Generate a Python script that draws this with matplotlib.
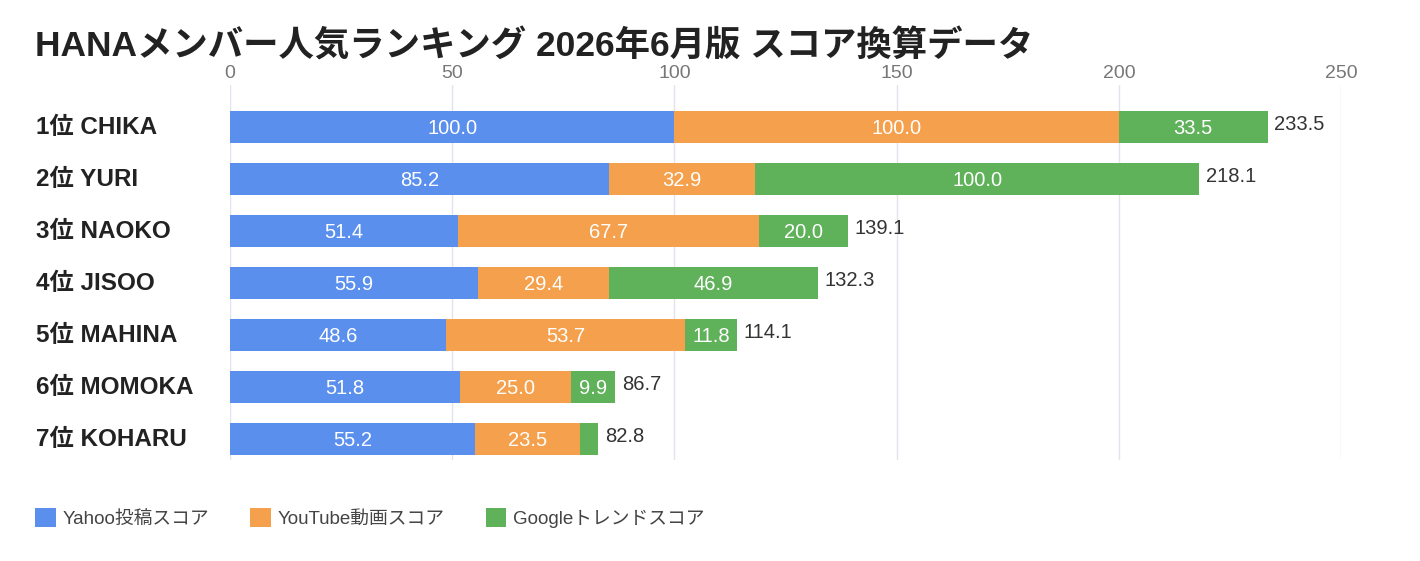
import numpy as np
import matplotlib
matplotlib.use('Agg')
import matplotlib.pyplot as plt
from matplotlib.patches import Patch

plt.rcParams['font.family'] = ['Liberation Sans', 'Noto Sans CJK JP', 'DejaVu Sans']

# データ
members = ['1位 CHIKA', '2位 YURI', '3位 NAOKO', '4位 JISOO', '5位 MAHINA', '6位 MOMOKA', '7位 KOHARU']
yahoo = [100.0, 85.2, 51.4, 55.9, 48.6, 51.8, 55.2]
youtube = [100.0, 32.9, 67.7, 29.4, 53.7, 25.0, 23.5]
google = [33.5, 100.0, 20.0, 46.9, 11.8, 9.9, 4.1]
totals = [233.5, 218.1, 139.1, 132.3, 114.1, 86.7, 82.8]
series_names = ['Yahoo投稿スコア', 'YouTube動画スコア', 'Googleトレンドスコア']
colors = ['#5B8FEE', '#F5A04C', '#5FB15A']
xticks = [0, 50, 100, 150, 200, 250]

fig = plt.figure(figsize=(14.2, 5.61), dpi=100)
ax = fig.add_axes([0.162, 0.18, 0.9444 - 0.162, 0.8485 - 0.18])

y = np.arange(len(members))
left = np.zeros(len(members))
for vals, c in zip([yahoo, youtube, google], colors):
    vals = np.array(vals)
    ax.barh(y, vals, left=left, height=0.62, color=c, zorder=2)
    for yi, l, v in zip(y, left, vals):
        if v >= 8:
            ax.text(l + v / 2, yi + 0.02, f'{v:.1f}', ha='center', va='center',
                    color='white', fontsize=14.5, zorder=3)
    left = left + vals

for yi, t, s in zip(y, totals, left):
    ax.text(s + 1.5, yi - 0.05, f'{t:.1f}', ha='left', va='center',
            color='#333333', fontsize=14.5)

ax.set_xlim(0, 250)
ax.set_ylim(6.404, -0.808)
ax.set_xticks(xticks)
ax.xaxis.tick_top()
ax.tick_params(axis='x', length=0, labelsize=14, labelcolor='#777777', pad=2)
ax.set_yticks([])
ax.grid(axis='x', color='#E3E3EC', linewidth=1, zorder=0)
for sp in ax.spines.values():
    sp.set_visible(False)

for yi, name in zip(y, members):
    ax.text(-0.175, yi, name, transform=ax.get_yaxis_transform(),
            ha='left', va='center', fontsize=17.5, fontweight='bold', color='#222222')

fig.text(35 / 1420, 1 - 46 / 561, 'HANAメンバー人気ランキング 2026年6月版 スコア換算データ',
         ha='left', va='center', fontsize=25.5, fontweight='bold', color='#222222')

handles = [Patch(facecolor=c, label=n) for c, n in zip(colors, series_names)]
fig.legend(handles=handles, loc='center left', bbox_to_anchor=(0.013, 1 - 518 / 561),
           ncol=3, frameon=False, fontsize=13.5, handlelength=1.1, handleheight=1.2,
           handletextpad=0.35, columnspacing=2.2, labelcolor='#444444')

fig.savefig('out.png', dpi=100, facecolor='white')
